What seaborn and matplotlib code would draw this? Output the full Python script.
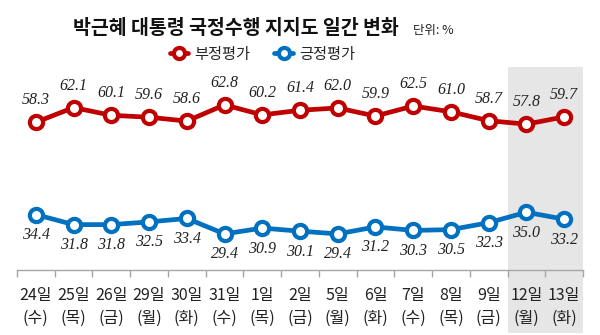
import matplotlib
matplotlib.use("Agg")
import matplotlib.pyplot as plt
from matplotlib.patches import Rectangle
from matplotlib.lines import Line2D
import matplotlib.transforms as mtransforms
import seaborn as sns
import pandas as pd
import numpy as np

dates = ["24일", "25일", "26일", "29일", "30일", "31일", "1일", "2일", "5일", "6일", "7일", "8일", "9일", "12일", "13일"]
weekdays = ["수", "목", "금", "월", "화", "수", "목", "금", "월", "화", "수", "목", "금", "월", "화"]
negative = [58.3, 62.1, 60.1, 59.6, 58.6, 62.8, 60.2, 61.4, 62.0, 59.9, 62.5, 61.0, 58.7, 57.8, 59.7]
positive = [34.4, 31.8, 31.8, 32.5, 33.4, 29.4, 30.9, 30.1, 29.4, 31.2, 30.3, 30.5, 32.3, 35.0, 33.2]
series_names = ["부정평가", "긍정평가"]
title = "박근혜 대통령 국정수행 지지도 일간 변화"
unit = "단위: %"

sns.set_theme(style="white")
plt.rcParams['font.family'] = ['Noto Sans CJK KR', 'DejaVu Sans']

RED = "#C00000"
BLUE = "#0070C0"

pos = np.arange(len(dates))
df = pd.DataFrame({
    "pos": np.concatenate([pos, pos]),
    "value": negative + positive,
    "series": [series_names[0]] * len(pos) + [series_names[1]] * len(pos),
})

fig = plt.figure(figsize=(6.0, 3.35), dpi=100)
ax = fig.add_axes([17/600, 65/335, 566/600, 203/335])

sns.lineplot(data=df, x="pos", y="value", hue="series",
             palette={series_names[0]: RED, series_names[1]: BLUE},
             marker="o", markersize=9.5, markerfacecolor="white",
             markeredgewidth=3.0, linewidth=3.4, legend=False, ax=ax)
for line, c in zip(ax.get_lines(), [RED, BLUE]):
    line.set_markeredgecolor(c)

ax.set_xlim(-0.5, len(dates) - 0.5)
ax.set_ylim(20.05, 72.6)
ax.set_xlabel("")
ax.set_ylabel("")

# shaded region for last two days
trans = mtransforms.blended_transform_factory(ax.transData, ax.transAxes)
rect = Rectangle((len(dates) - 2.5, -0.31), 2.0, 1.31, transform=trans,
                 facecolor="#E6E6E6", edgecolor="none", clip_on=False, zorder=0)
ax.add_patch(rect)
ax.set_zorder(1)
ax.patch.set_alpha(0)

# data labels
for x, v in zip(pos, negative):
    ax.annotate(f"{v:.1f}", (x, v), xytext=(0, 10), textcoords="offset points",
                ha="center", va="bottom", fontsize=11.5, fontstyle="italic",
                family="Liberation Serif", color="#222222")
for x, v in zip(pos, positive):
    ax.annotate(f"{v:.1f}", (x, v), xytext=(0, -9), textcoords="offset points",
                ha="center", va="top", fontsize=11.5, fontstyle="italic",
                family="Liberation Serif", color="#222222")

# axes styling
for s in ["top", "right", "left"]:
    ax.spines[s].set_visible(False)
ax.spines["bottom"].set_color("#A6A6A6")
ax.spines["bottom"].set_linewidth(1.0)
ax.set_yticks([])
ax.set_xticks(pos)
ax.set_xticklabels([f"{d}\n({w})" for d, w in zip(dates, weekdays)],
                   fontsize=11.5, color="#222222", linespacing=1.5)
ax.tick_params(axis="x", which="major", length=0, pad=12)
ax.set_xticks(np.arange(-0.5, len(dates), 1.0), minor=True)
ax.tick_params(axis="x", which="minor", length=5, color="#A6A6A6", width=1, bottom=True)

# title
fig.text(0.393, 0.915, title, ha="center", va="center", fontsize=14, fontweight="bold", color="#111111")
fig.text(0.688, 0.91, unit, ha="left", va="center", fontsize=9, color="#222222")

handles = [Line2D([0], [0], color=RED, lw=3.4, marker="o", markersize=8,
                  markerfacecolor="white", markeredgecolor=RED, markeredgewidth=3.0),
           Line2D([0], [0], color=BLUE, lw=3.4, marker="o", markersize=8,
                  markerfacecolor="white", markeredgecolor=BLUE, markeredgewidth=3.0)]
fig.legend(handles, series_names, loc="center", bbox_to_anchor=(0.437, 0.838), ncol=2,
           frameon=False, fontsize=11, handlelength=1.2, columnspacing=1.6, handletextpad=0.4)

fig.savefig("out.png", dpi=100)
